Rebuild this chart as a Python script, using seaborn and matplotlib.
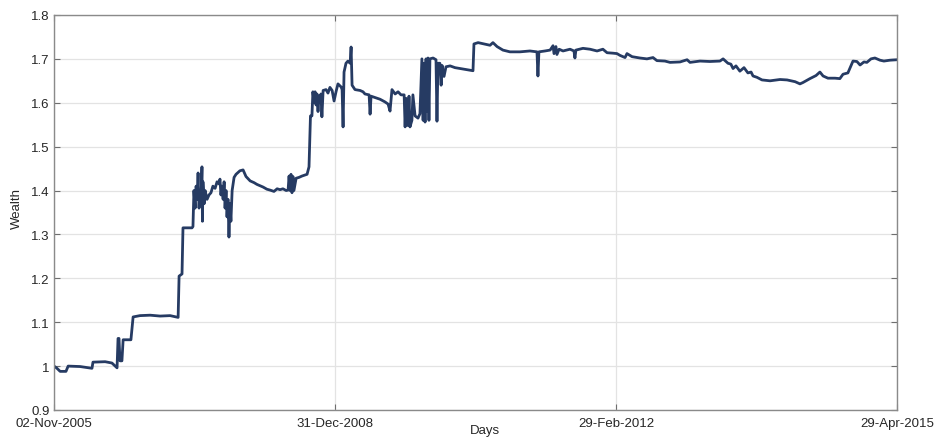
import numpy as np
import pandas as pd
import matplotlib
matplotlib.use("Agg")
import matplotlib.pyplot as plt
import matplotlib.dates as mdates
import seaborn as sns

# Portfolio wealth path: calendar days since the start date and wealth level
start_date = "2005-11-02"
day = [
    0, 12, 25, 49, 58, 107, 156, 160, 210, 238, 255, 259, 263, 267, 271, 279,
    284, 316, 325, 353, 395, 436, 477, 510, 514, 526, 530, 567, 571,
    575, 580, 584, 588, 592, 596, 600, 604, 608, 610, 612, 617, 621, 629, 637,
    645, 653, 662, 670, 678, 682, 686, 690, 695, 699, 703, 707, 711, 715, 719,
    723, 727, 732, 740, 748, 764, 777, 789, 806, 822, 834, 859, 875, 888, 904,
    917, 929, 941, 954, 962, 966, 970, 974, 978, 982, 986, 995, 1007, 1019,
    1040, 1048, 1054, 1060, 1064, 1069, 1073, 1077, 1081, 1085, 1089, 1093,
    1097, 1101, 1106, 1118, 1126, 1134, 1143, 1151, 1159, 1167, 1180, 1184,
    1188, 1192, 1200, 1208, 1217, 1221, 1225, 1237, 1258, 1270, 1278, 1295,
    1299, 1303, 1319, 1340, 1360, 1373, 1381, 1389, 1402, 1414, 1426, 1439,
    1443, 1447, 1455, 1459, 1463, 1471, 1475, 1484, 1496, 1504, 1512, 1517,
    1521, 1525, 1529, 1533, 1537, 1541, 1545, 1558, 1570, 1574, 1578, 1586,
    1591, 1595, 1603, 1611, 1628, 1648, 1669, 1689, 1710, 1722, 1726, 1743,
    1759, 1776, 1792, 1804, 1821, 1845, 1874, 1915, 1956, 1985, 1989, 1993,
    2018, 2039, 2051, 2055, 2063, 2067, 2076, 2092, 2121, 2137, 2141, 2145,
    2174, 2203, 2232, 2256, 2273, 2297, 2314, 2326, 2347, 2355, 2376, 2408,
    2437, 2462, 2478, 2511, 2532, 2573, 2602, 2614, 2655, 2696, 2737, 2750,
    2770, 2782, 2791, 2803, 2819, 2836, 2852, 2865, 2873, 2889, 2910, 2943,
    2984, 3013, 3046, 3066, 3078, 3107, 3132, 3148, 3161, 3181, 3210, 3230,
    3243, 3263, 3284, 3300, 3313, 3329, 3341, 3358, 3374, 3395, 3411, 3436,
    3465,
]
wealth = [
    1.000, 0.995, 0.988, 0.988, 1.000, 0.999, 0.995, 1.009, 1.010, 1.007,
    0.998, 0.996, 1.063, 1.063, 1.012, 1.012, 1.060, 1.060, 1.112, 1.115,
    1.116, 1.114, 1.115, 1.111, 1.205, 1.210, 1.315, 1.315, 1.318,
    1.400, 1.360, 1.410, 1.380, 1.440, 1.360, 1.400, 1.380, 1.454, 1.330,
    1.420, 1.370, 1.400, 1.380, 1.390, 1.395, 1.410, 1.405, 1.420, 1.415,
    1.426, 1.390, 1.410, 1.380, 1.420, 1.360, 1.400, 1.340, 1.380, 1.294,
    1.370, 1.330, 1.400, 1.430, 1.437, 1.445, 1.447, 1.432, 1.422, 1.418,
    1.414, 1.408, 1.403, 1.401, 1.398, 1.404, 1.402, 1.404, 1.400, 1.401,
    1.433, 1.400, 1.437, 1.395, 1.432, 1.400, 1.428, 1.430, 1.433, 1.437,
    1.454, 1.570, 1.570, 1.625, 1.600, 1.625, 1.595, 1.620, 1.580, 1.615,
    1.600, 1.620, 1.568, 1.628, 1.630, 1.622, 1.635, 1.628, 1.604, 1.625,
    1.643, 1.636, 1.630, 1.545, 1.670, 1.690, 1.695, 1.690, 1.727, 1.640,
    1.630, 1.628, 1.625, 1.620, 1.618, 1.574, 1.615, 1.612, 1.608, 1.602,
    1.597, 1.581, 1.630, 1.620, 1.625, 1.618, 1.618, 1.545, 1.610, 1.548,
    1.615, 1.545, 1.560, 1.618, 1.570, 1.565, 1.575, 1.700, 1.560, 1.690,
    1.556, 1.700, 1.580, 1.702, 1.560, 1.700, 1.702, 1.698, 1.558, 1.690,
    1.690, 1.640, 1.685, 1.660, 1.682, 1.684, 1.680, 1.678, 1.676, 1.674,
    1.673, 1.734, 1.737, 1.735, 1.733, 1.731, 1.737, 1.728, 1.720, 1.716,
    1.716, 1.718, 1.716, 1.661, 1.716, 1.718, 1.720, 1.730, 1.712, 1.728,
    1.710, 1.722, 1.718, 1.722, 1.718, 1.702, 1.720, 1.724, 1.722, 1.718,
    1.722, 1.714, 1.713, 1.712, 1.708, 1.703, 1.712, 1.705, 1.702, 1.700,
    1.703, 1.696, 1.695, 1.692, 1.693, 1.698, 1.692, 1.695, 1.694, 1.695,
    1.700, 1.690, 1.688, 1.678, 1.684, 1.672, 1.680, 1.668, 1.670, 1.661,
    1.658, 1.652, 1.650, 1.653, 1.652, 1.648, 1.643, 1.646, 1.655, 1.662,
    1.670, 1.661, 1.656, 1.656, 1.655, 1.665, 1.668, 1.695, 1.694, 1.686,
    1.693, 1.692, 1.700, 1.702, 1.697, 1.695, 1.697, 1.698,
]
tick_dates = ["2005-11-02", "2008-12-31", "2012-02-29", "2015-04-29"]
tick_labels = ["02-Nov-2005", "31-Dec-2008", "29-Feb-2012", "29-Apr-2015"]
y_ticks = [0.9, 1.0, 1.1, 1.2, 1.3, 1.4, 1.5, 1.6, 1.7, 1.8]

df = pd.DataFrame({
    "Days": pd.Timestamp(start_date) + pd.to_timedelta(day, unit="D"),
    "Wealth": wealth,
})

sns.set_theme(style="white")
plt.rcParams["font.family"] = ["Liberation Sans", "DejaVu Sans"]

fig = plt.figure(figsize=(9.35, 4.39), dpi=100)
ax = fig.add_axes([0.0578, 0.0638, 0.9016, 0.8998])

sns.lineplot(data=df, x="Days", y="Wealth", ax=ax, color="#263b63",
             linewidth=2.0, estimator=None, sort=False)

ax.set_xlim(pd.Timestamp(tick_dates[0]), pd.Timestamp(tick_dates[-1]))
ax.set_ylim(0.9, 1.8)
ax.set_xticks([pd.Timestamp(d) for d in tick_dates])
ax.set_xticklabels(tick_labels)
ax.set_yticks(y_ticks)
ax.set_yticklabels(["0.9", "1", "1.1", "1.2", "1.3", "1.4", "1.5", "1.6", "1.7", "1.8"])

ax.grid(True, color="#e3e3e3", linewidth=0.9)
ax.set_axisbelow(True)
for s in ax.spines.values():
    s.set_color("#8a8a8a")
    s.set_linewidth(1.0)

ax.tick_params(axis="both", direction="in", length=4, width=0.8,
               colors="#6e6e6e", labelcolor="#262626", labelsize=9.5,
               top=True, right=True, bottom=True, left=True, pad=3)
ax.tick_params(axis="x", pad=5)

ax.set_xlabel("")
ax.set_ylabel("")
fig.text(0.519, 0.004, "Days", ha="center", va="bottom", fontsize=9.5,
         color="#262626")
fig.text(0.018, 0.524, "Wealth", ha="center", va="center", rotation=90,
         fontsize=9.5, color="#262626")

fig.savefig("out.png", dpi=100)
